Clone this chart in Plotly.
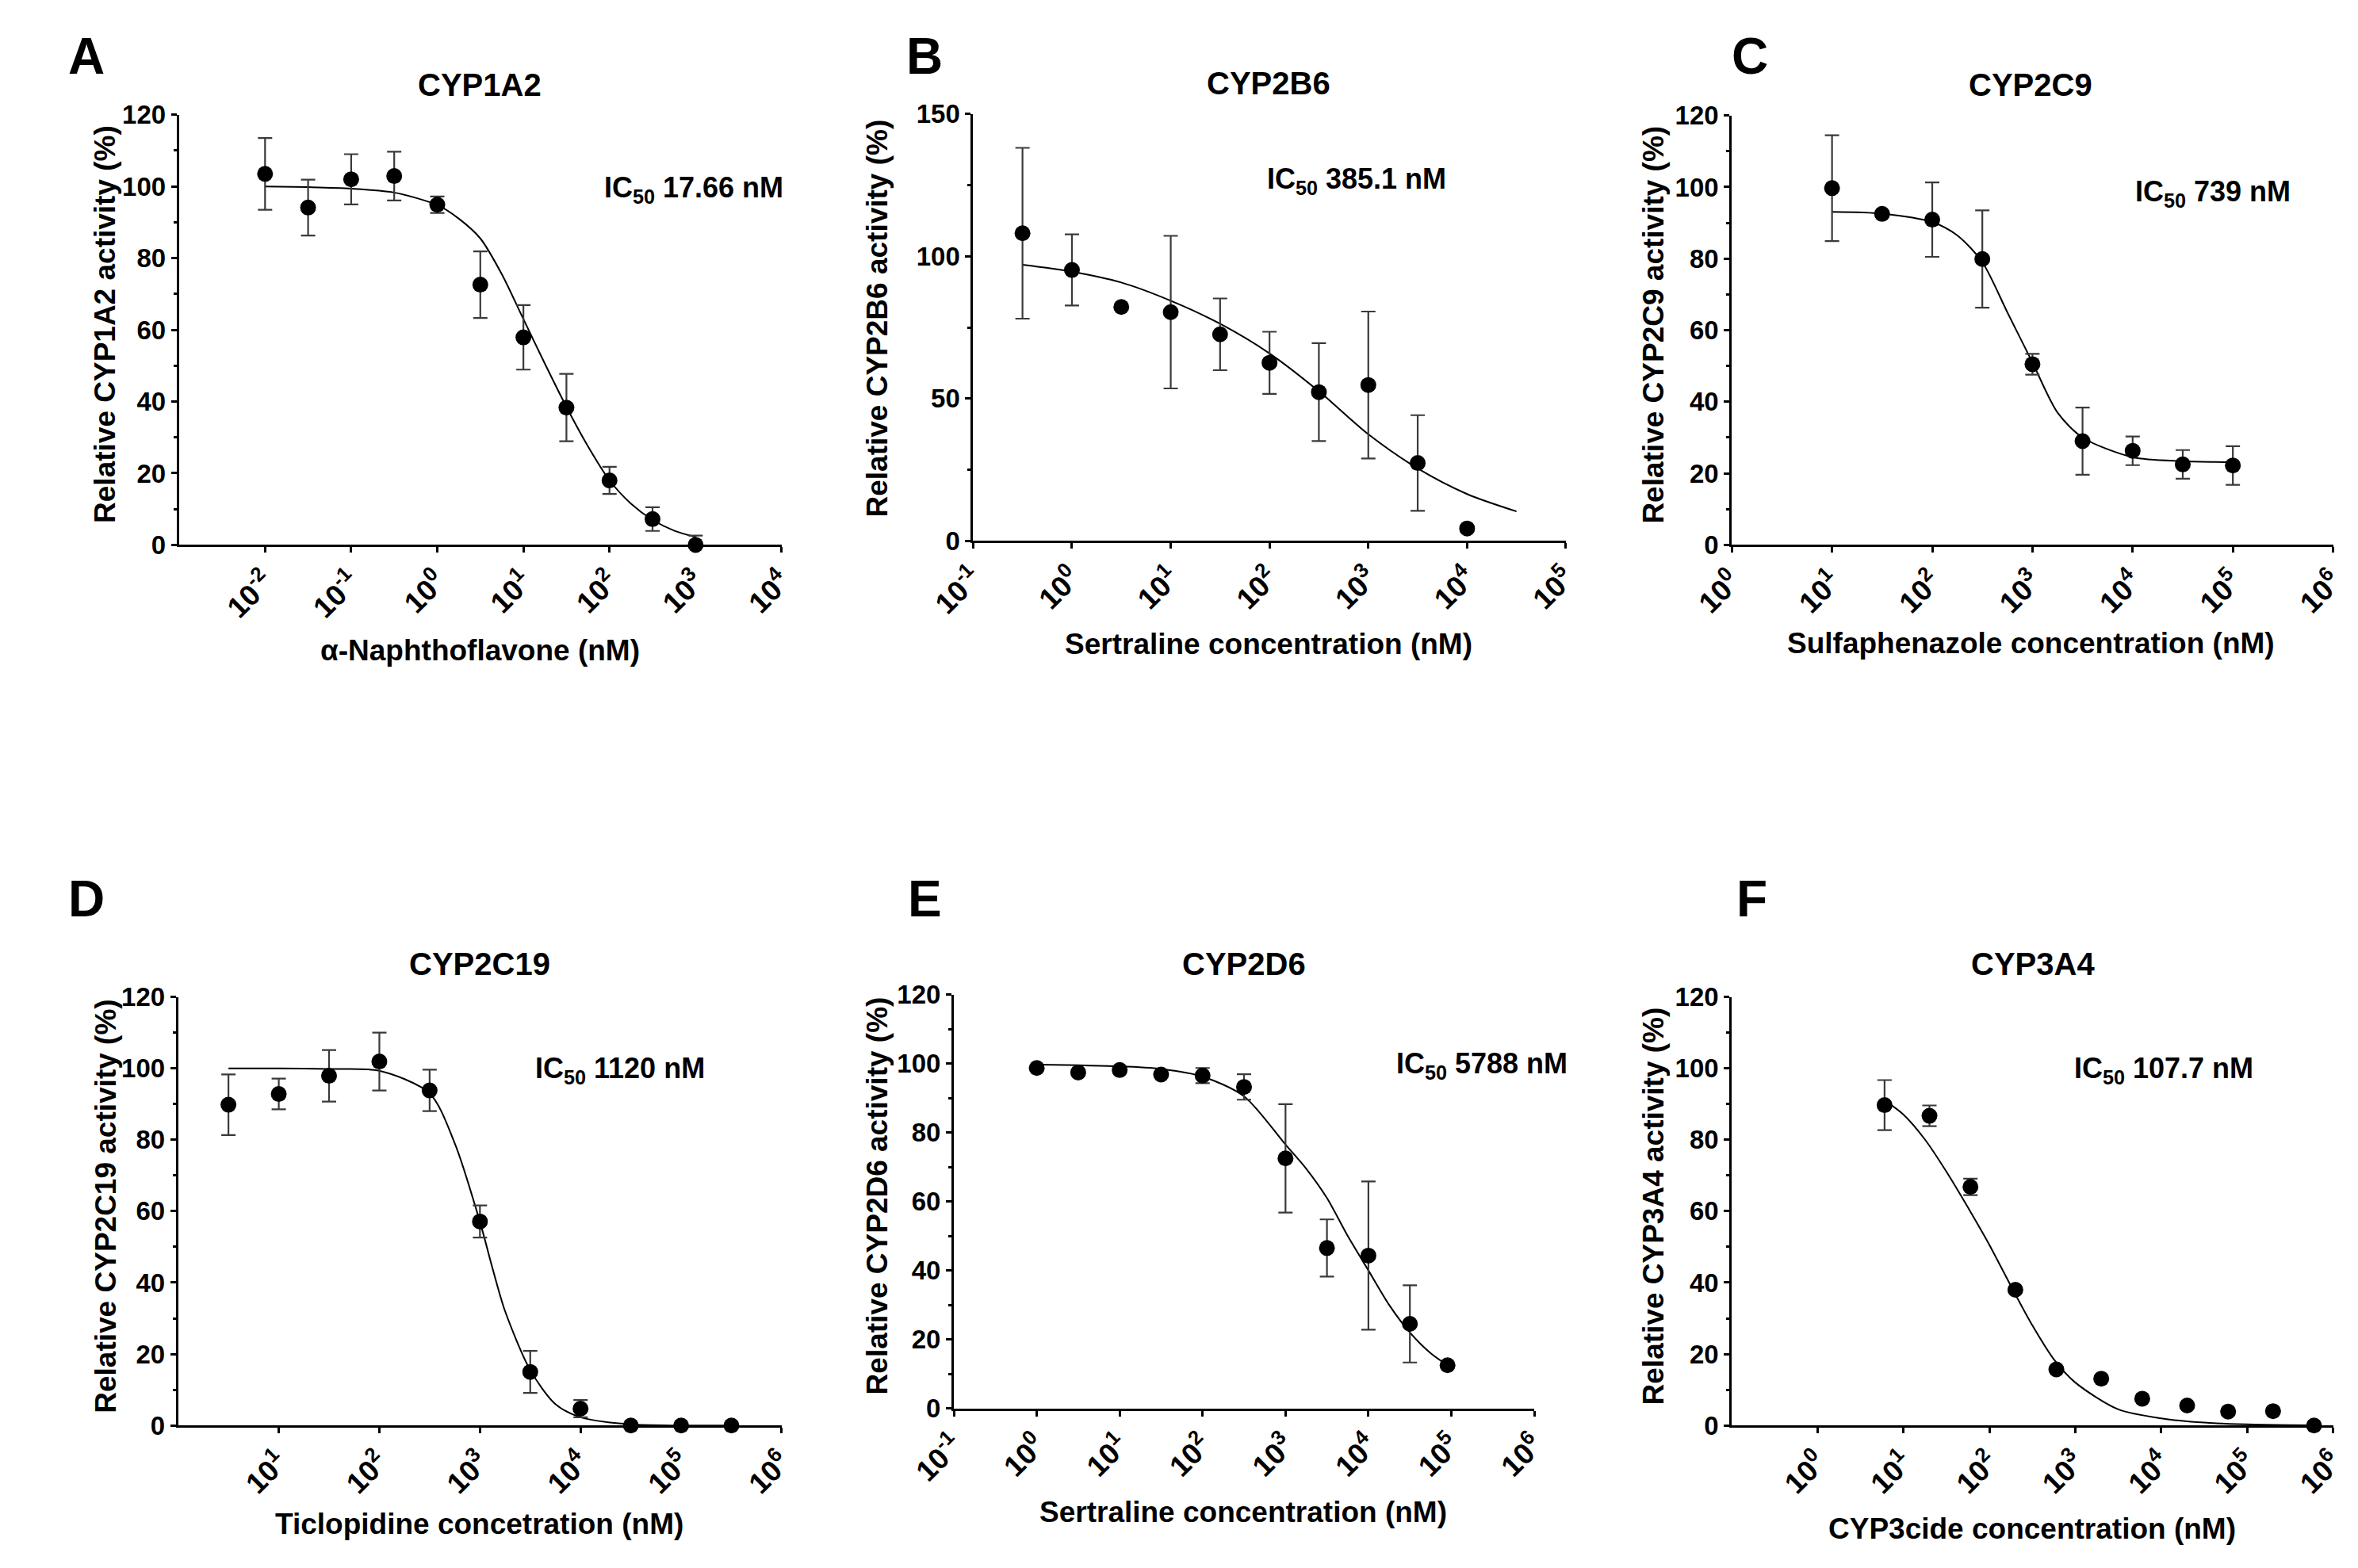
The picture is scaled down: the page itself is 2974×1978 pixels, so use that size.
import plotly.graph_objects as go

W, H = 2974, 1978
FONT = "Liberation Sans"

# A  CYP1A2 / alpha-naphthoflavone
a_conc = [0.01, 0.0316, 0.1, 0.316, 1, 3.16, 10, 31.6, 100, 316, 1000]
a_act = [103.5, 94.1, 102.0, 102.9, 94.9, 72.6, 57.9, 38.3, 18.0, 7.2, 0.0]
a_err = [10.0, 7.8, 7.0, 6.8, 2.3, 9.3, 9.0, 9.4, 3.8, 3.3, 2.6]
a_fit_conc = [0.01, 0.0316, 0.1, 0.316, 1, 1.78, 3.16, 5.62, 10, 17.8, 31.6, 56.2,
              100, 178, 316, 562, 1000]
a_fit_act = [100, 99.8, 99.4, 98.3, 94.8, 91, 85.5, 75.5, 63, 50.5, 38.5, 27.5,
             18, 11.5, 7, 4, 2.2]

# B  CYP2B6 / sertraline
b_conc = [0.316, 1, 3.16, 10, 31.6, 100, 316, 1000, 3162, 10000]
b_act = [108.1, 95.2, 82.2, 80.4, 72.6, 62.6, 52.3, 54.8, 27.4, 4.4]
b_err = [30.0, 12.5, 0, 26.8, 12.6, 10.9, 17.2, 25.8, 16.8, 0]
b_fit_conc = [0.316, 1, 3.16, 10, 31.6, 100, 316, 1000, 3162, 10000, 31623]
b_fit_act = [97, 94.6, 90.8, 84.4, 76.3, 65.9, 52.6, 37.5, 25.5, 16.5, 10.4]

# C  CYP2C9 / sulfaphenazole
c_conc = [10, 31.6, 100, 316, 1000, 3162, 10000, 31623, 100000]
c_act = [99.7, 92.5, 90.9, 79.9, 50.5, 29.0, 26.3, 22.5, 22.2]
c_err = [14.8, 0, 10.4, 13.6, 2.9, 9.4, 4.0, 4.0, 5.4]
c_fit_conc = [10, 31.6, 100, 178, 316, 562, 1000, 1778, 3162, 10000, 31623, 100000]
c_fit_act = [93.1, 92.6, 90.2, 86.5, 79, 65, 51, 37, 30, 24.5, 23.4, 23.1]

# D  CYP2C19 / ticlopidine
d_conc = [3.16, 10, 31.6, 100, 316, 1000, 3162, 10000, 31623, 100000, 316228]
d_act = [89.8, 92.8, 97.9, 101.9, 93.8, 57.1, 15.0, 4.7, 0.0, 0.0, 0.0]
d_err = [8.5, 4.3, 7.2, 8.1, 5.8, 4.5, 5.9, 2.4, 0, 0, 0]
d_fit_conc = [3.16, 10, 31.6, 100, 316, 562, 1000, 1334, 1778, 3162, 5623, 10000,
              31623, 100000, 316228]
d_fit_act = [100, 100, 99.8, 99.3, 93, 79, 57, 44, 32, 15.5, 6, 2.3, 0.3, 0, 0]

# E  CYP2D6 / sertraline
e_conc = [1, 3.16, 10, 31.6, 100, 316, 1000, 3162, 10000, 31623, 90000]
e_act = [98.7, 97.4, 98.1, 96.8, 96.5, 93.2, 72.5, 46.5, 44.3, 24.5, 12.5]
e_err = [0, 0, 0, 0, 2.2, 3.7, 15.7, 8.3, 21.5, 11.2, 0]
e_fit_conc = [1, 10, 31.6, 100, 316, 1000, 1778, 3162, 5623, 10000, 17783, 31623,
              56234, 90000]
e_fit_act = [99.7, 99.2, 98.4, 96.2, 90.5, 76.5, 69.5, 61, 50, 40, 30, 22, 16, 12.5]

# F  CYP3A4 / CYP3cide
f_conc = [6, 20, 60, 200, 600, 2000, 6000, 20000, 60000, 200000, 600000]
f_act = [89.7, 86.7, 66.8, 38.0, 15.7, 13.1, 7.5, 5.6, 3.9, 4.0, 0.0]
f_err = [7.0, 2.9, 2.3, 0, 0, 0, 0, 0, 0, 0, 0]
f_fit_conc = [6, 10, 17.8, 31.6, 56.2, 100, 178, 316, 562, 1000, 3162, 10000,
              31623, 100000, 316228, 600000]
f_fit_act = [91, 87, 80, 71, 61, 50.5, 39, 28, 18.5, 12, 4.5, 2, 0.8, 0.3, 0.1, 0.05]

titles = ["CYP1A2", "CYP2B6", "CYP2C9", "CYP2C19", "CYP2D6", "CYP3A4"]
letters = ["A", "B", "C", "D", "E", "F"]
ic50_labels = ["17.66 nM", "385.1 nM", "739 nM", "1120 nM", "5788 nM", "107.7 nM"]
y_titles = ["Relative CYP1A2 activity (%)", "Relative CYP2B6 activity (%)",
            "Relative CYP2C9 activity (%)", "Relative CYP2C19 activity (%)",
            "Relative CYP2D6 activity (%)", "Relative CYP3A4 activity (%)"]
x_titles = ["α-Naphthoflavone (nM)", "Sertraline concentration (nM)",
            "Sulfaphenazole concentration (nM)", "Ticlopidine concetration (nM)",
            "Sertraline concentration (nM)", "CYP3cide concentration (nM)"]

# layout in pixels of the reference picture
boxes = [  # x0, x1, ytop, ybottom
    (162, 943, 121, 674), (1191, 1959, 120, 669), (2174, 2953, 122, 674),
    (161, 943, 1255, 1806), (1166, 1918, 1252, 1784), (2174, 2953, 1255, 1806)]
xranges = [(-3, 4), (-1, 5), (0, 6), (0, 6), (-1, 6), (-1, 6)]
xlabels_from = [-2, -1, 0, 1, -1, 0]
yranges = [120, 150, 120, 120, 120, 120]
ymajor = [20, 50, 20, 20, 20, 20]
yminor = [10, 25, 10, 10, 10, 10]
title_pos = [(552, 83), (1574, 80), (2561, 83), (552, 1213), (1542, 1213), (2564, 1213)]
letter_pos = [(42, 46), (1128, 46), (2197, 46), (42, 1129), (1128, 1129), (2200, 1129)]
ic50_pos = [(711, 217), (1570, 206), (2695, 222), (622, 1349), (1737, 1343), (2615, 1349)]
ytitle_pos = [(66, 390), (1067, 383), (2073, 391), (67, 1524), (1067, 1511), (2073, 1524)]
xtitle_pos = [(552, 810), (1574, 802), (2562, 800), (551, 1933), (1541, 1917), (2563, 1939)]

data = [(a_conc, a_act, a_err, a_fit_conc, a_fit_act),
        (b_conc, b_act, b_err, b_fit_conc, b_fit_act),
        (c_conc, c_act, c_err, c_fit_conc, c_fit_act),
        (d_conc, d_act, d_err, d_fit_conc, d_fit_act),
        (e_conc, e_act, e_err, e_fit_conc, e_fit_act),
        (f_conc, f_act, f_err, f_fit_conc, f_fit_act)]


def px(x):
    return x / W


def py(y):
    return 1 - y / H


fig = go.Figure()
ann = []
for i, (conc, act, err, fx, fy) in enumerate(data):
    n = "" if i == 0 else str(i + 1)
    xa, ya = "x" + n, "y" + n
    fig.add_trace(go.Scatter(x=fx, y=fy, xaxis=xa, yaxis=ya, mode="lines",
                             line=dict(color="black", width=2, shape="spline",
                                       smoothing=0.8),
                             cliponaxis=False, showlegend=False, hoverinfo="skip"))
    fig.add_trace(go.Scatter(x=conc, y=act, xaxis=xa, yaxis=ya, mode="markers",
                             marker=dict(color="black", size=20),
                             error_y=dict(type="data", array=err, color="#3a3a3a",
                                          thickness=2.2, width=9),
                             cliponaxis=False, showlegend=False))

    x0, x1, yt, yb = boxes[i]
    lo, hi = xranges[i]
    exps = list(range(xlabels_from[i], hi + 1))
    fig.update_layout(**{
        "xaxis" + n: dict(
            domain=[px(x0), px(x1)], anchor=ya, type="log", range=[lo, hi],
            tickmode="array", tickvals=[10 ** e for e in exps],
            ticktext=["10<sup>%d</sup>" % e for e in exps], tickangle=-45,
            ticks="outside", ticklen=7, tickwidth=3, tickcolor="black",
            showline=True, linecolor="black", linewidth=3, showgrid=False,
            zeroline=False,
            tickfont=dict(family=FONT, size=37, color="black", weight="bold")),
        "yaxis" + n: dict(
            domain=[py(yb), py(yt)], anchor=xa, range=[0, yranges[i]],
            tickmode="linear", tick0=0, dtick=ymajor[i],
            ticks="outside", ticklen=7, tickwidth=3, tickcolor="black",
            minor=dict(dtick=yminor[i], ticks="outside", ticklen=4, tickwidth=2.5,
                       tickcolor="black", showgrid=False),
            showline=True, linecolor="black", linewidth=3, showgrid=False,
            zeroline=False,
            tickfont=dict(family=FONT, size=33, color="black", weight="bold")),
    })

    ann.append(dict(text=titles[i], x=px(title_pos[i][0]), y=py(title_pos[i][1]),
                    font=dict(size=40, weight="bold")))
    ann.append(dict(text=letters[i], x=px(letter_pos[i][0]), y=py(letter_pos[i][1]),
                    font=dict(size=64, weight="bold")))
    ann.append(dict(text="IC<sub>50</sub> " + ic50_labels[i], x=px(ic50_pos[i][0]),
                    y=py(ic50_pos[i][1]), xanchor="left",
                    font=dict(size=36, weight="bold")))
    ann.append(dict(text=y_titles[i], x=px(ytitle_pos[i][0]), y=py(ytitle_pos[i][1]),
                    textangle=-90, font=dict(size=37, weight="bold")))
    ann.append(dict(text=x_titles[i], x=px(xtitle_pos[i][0]), y=py(xtitle_pos[i][1]),
                    font=dict(size=37, weight="bold")))

for a in ann:
    a.update(xref="paper", yref="paper", showarrow=False)
    a.setdefault("xanchor", "center")
    a["yanchor"] = "middle"
    a["font"].update(family=FONT, color="black")

fig.update_layout(width=W, height=H, margin=dict(l=0, r=0, t=0, b=0),
                  paper_bgcolor="white", plot_bgcolor="white", annotations=ann)

fig.write_html("out.html")
